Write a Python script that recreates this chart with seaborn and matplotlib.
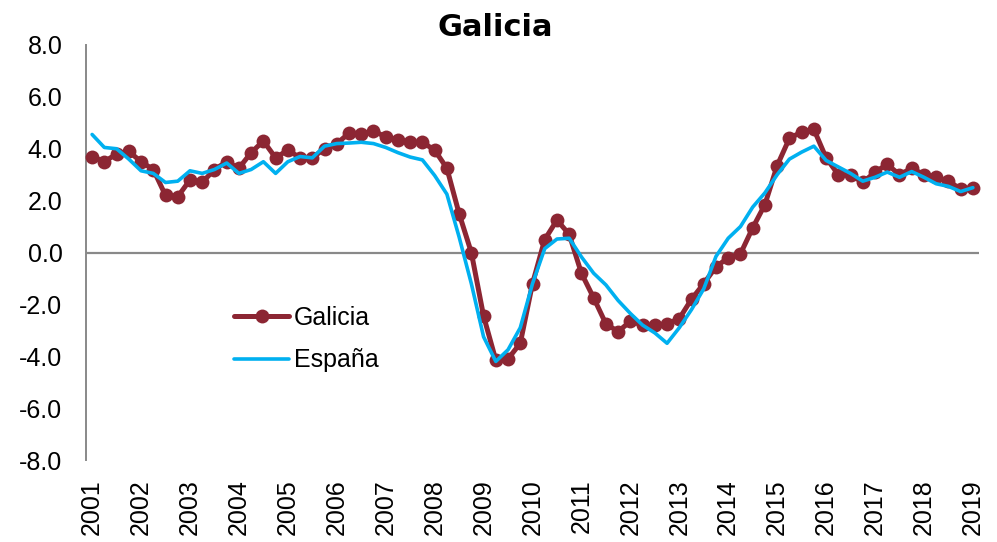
import numpy as np
import pandas as pd
import matplotlib
matplotlib.use("Agg")
import matplotlib.pyplot as plt
import seaborn as sns

# quarterly series, 2001Q1 .. 2019Q1
galicia = [
    3.7, 3.5, 3.8, 3.9, 3.5, 3.2, 2.2, 2.15, 2.8, 2.7, 3.2, 3.5,
    3.25, 3.85, 4.3, 3.65, 3.95, 3.65, 3.65, 4.0, 4.2, 4.6, 4.55, 4.7,
    4.45, 4.35, 4.25, 4.25, 3.95, 3.25, 1.5, 0.0, -2.45, -4.15, -4.1, -3.5,
    -1.2, 0.5, 1.25, 0.7, -0.8, -1.75, -2.75, -3.05, -2.65, -2.8, -2.8, -2.75,
    -2.55, -1.8, -1.2, -0.55, -0.2, -0.05, 0.95, 1.85, 3.35, 4.4, 4.65, 4.75,
    3.65, 3.0, 3.0, 2.7, 3.1, 3.4, 3.0, 3.25, 3.0, 2.9, 2.75, 2.45,
    2.5,
]
espana = [
    4.55, 4.05, 4.0, 3.6, 3.15, 3.05, 2.7, 2.75, 3.15, 3.05, 3.2, 3.45,
    3.05, 3.2, 3.5, 3.05, 3.5, 3.7, 3.65, 4.1, 4.2, 4.22, 4.25, 4.2,
    4.05, 3.85, 3.68, 3.57, 2.97, 2.25, 0.6, -1.2, -3.25, -4.2, -3.75, -2.9,
    -1.2, 0.15, 0.52, 0.55, -0.17, -0.8, -1.25, -1.85, -2.35, -2.8, -3.1, -3.5,
    -2.9, -2.2, -1.4, -0.15, 0.55, 1.0, 1.75, 2.3, 3.0, 3.6, 3.87, 4.1,
    3.55, 3.3, 3.05, 2.75, 2.9, 3.1, 2.9, 3.12, 2.9, 2.65, 2.55, 2.35,
    2.5,
]
years = [str(y) for y in range(2001, 2020)]
yticks = [-8, -6, -4, -2, 0, 2, 4, 6, 8]

RED = "#8C2633"
BLUE = "#00B0F0"
GREY = "#898989"

df = pd.DataFrame({
    "t": np.arange(len(galicia)),
    "Galicia": galicia,
    "España": espana,
})

sns.set_style("white")
plt.rcParams["font.family"] = ["Liberation Sans", "DejaVu Sans"]
plt.rcParams["text.color"] = "black"
plt.rcParams["xtick.labelcolor"] = "black"
plt.rcParams["ytick.labelcolor"] = "black"

fig = plt.figure(figsize=(9.97, 5.42), dpi=100)
ax = fig.add_axes([86 / 997, 1 - 460 / 542, (979 - 86) / 997, (460 - 45) / 542])

ax.axhline(0, color=GREY, lw=1.6, zorder=1)

sns.lineplot(
    data=df, x="t", y="Galicia", ax=ax,
    color=RED, lw=3.6, marker="o", markersize=10,
    markeredgewidth=0, label="Galicia", zorder=3, clip_on=False
)
sns.lineplot(
    data=df, x="t", y="España", ax=ax,
    color=BLUE, lw=2.6, label="España", zorder=4
)

ax.set_xlim(-0.5, len(galicia) - 0.5)
ax.set_ylim(-8, 8)
ax.set_xticks(np.arange(0, len(galicia), 4))
ax.set_xticklabels(years, rotation=90, fontsize=18)
ax.set_yticks(yticks)
ax.set_yticklabels([f"{v:.1f}" for v in yticks], fontsize=18)
ax.set_xlabel("")
ax.set_ylabel("")

for side in ["top", "right", "bottom"]:
    ax.spines[side].set_visible(False)
ax.spines["left"].set_color(GREY)
ax.spines["left"].set_linewidth(1.4)
ax.tick_params(axis="y", direction="in", length=5, width=1.4, color=GREY, pad=17)
ax.tick_params(axis="x", length=0, pad=14)

ax.legend(
    loc="center left",
    bbox_to_anchor=(234 / 997, 1 - 339 / 542),
    bbox_transform=fig.transFigure,
    frameon=False, fontsize=18, handlelength=2.2,
    handletextpad=0.2, borderpad=0, borderaxespad=0, labelspacing=0.75,
)

fig.text(495 / 997, 1 - 28 / 542, "Galicia", ha="center", va="center",
         fontsize=22, fontweight="bold", family="DejaVu Sans", color="black")

fig.savefig("out.png", dpi=100)
